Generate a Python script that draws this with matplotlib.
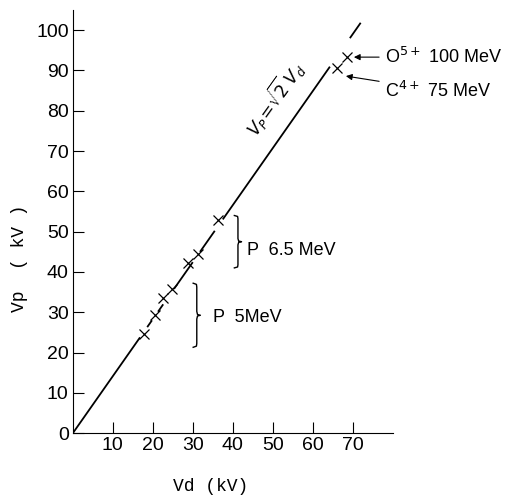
import numpy as np
import matplotlib
matplotlib.use("Agg")
import matplotlib.pyplot as plt

#data
vd_pts = [17.8, 20.5, 22.5, 24.7, 28.7, 31.2, 36.3, 66.0, 68.7]
vp_pts = [24.6, 29.3, 33.5, 35.7, 42.2, 44.4, 52.9, 90.5, 93.3]
#pieces of the line Vp = sqrt(2) Vd, broken where the crosses sit
line_pieces = [(0, 16.8), (18.6, 19.8), (21.3, 22.6), (25.3, 30.0),
               (31.8, 35.5), (37.5, 64.3), (69.3, 72.0)]
xticks = [10, 20, 30, 40, 50, 60, 70]
yticks = [0, 10, 20, 30, 40, 50, 60, 70, 80, 90, 100]

plt.rcParams['font.family'] = ['Liberation Sans', 'DejaVu Sans']
fig = plt.figure(figsize=(5.06, 4.99), dpi=100)
ax = fig.add_axes([0.144, 0.132, 0.632, 0.848])

for a, b in line_pieces:
    v = np.array([a, b])
    ax.plot(v, np.sqrt(2) * v, color='black', lw=1.3, solid_capstyle='butt')
ax.plot(vd_pts, vp_pts, 'x', color='black', ms=7, mew=0.9)

ax.set_xlim(0, 80)
ax.set_ylim(0, 105)
ax.spines['top'].set_visible(False)
ax.spines['right'].set_visible(False)
ax.set_xticks(xticks)
ax.set_yticks(yticks)
ax.tick_params(direction='in', length=8, width=0.8, labelsize=14, pad=3)

#formula along the line
ax.text(50.5, 83, r'$V_P\!=\!\sqrt{2}\,V_d$', rotation=54.5, ha='center', va='center',
        fontsize=12.5)

#ion labels with arrows
ax.annotate(r'O$^{5+}$ 100 MeV', xy=(70.3, 93.3), xytext=(78, 93.3),
            va='center', fontsize=13,
            arrowprops=dict(arrowstyle='-|>', color='black', lw=0.8, mutation_scale=9,
                            shrinkA=2, shrinkB=0))
ax.annotate(r'C$^{4+}$ 75 MeV', xy=(68.3, 88.6), xytext=(78, 85),
            va='center', fontsize=13,
            arrowprops=dict(arrowstyle='-|>', color='black', lw=0.8, mutation_scale=9,
                            shrinkA=2, shrinkB=0))

#curly brace drawn as a path
def brace(x, y0, y1, w):
    ym = (y0 + y1) / 2
    r = (y1 - y0) * 0.06
    xs = [x, x + w*0.45, x + w*0.5, x + w*0.5, x + w*0.6, x + w,
          x + w*0.6, x + w*0.5, x + w*0.5, x + w*0.45, x]
    ys = [y1, y1 - r*0.3, y1 - r, ym + r, ym + r*0.2, ym,
          ym - r*0.2, ym - r, y0 + r, y0 + r*0.3, y0]
    ax.plot(xs, ys, color='black', lw=1.0)

brace(40.4, 41.0, 54.0, 1.8)
ax.text(43.5, 45.4, 'P  6.5 MeV', fontsize=13, va='center')
brace(30.1, 21.3, 37.2, 1.8)
ax.text(35.0, 28.7, 'P  5MeV', fontsize=13, va='center')

fig.text(0.417, 0.026, 'Vd (kV)', fontfamily='Liberation Mono', fontsize=13,
         ha='center', va='center')
fig.text(0.038, 0.483, 'Vp  ( kV )', fontfamily='Liberation Mono', fontsize=13,
         ha='center', va='center', rotation=90)

fig.savefig('out.png', dpi=100)
